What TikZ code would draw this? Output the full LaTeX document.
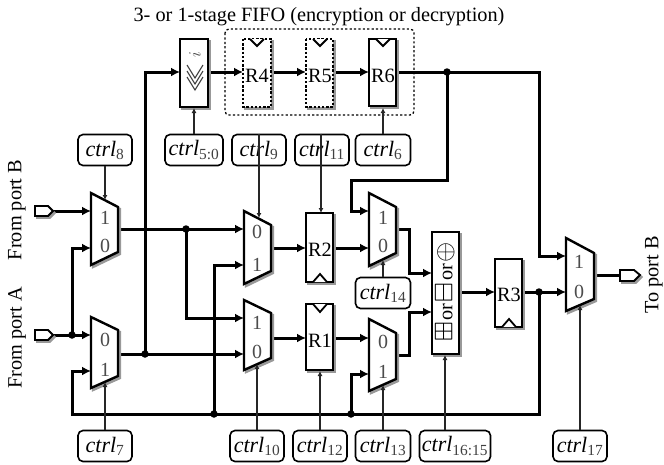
\documentclass[tikz,border=0pt]{standalone}
\usepackage{amssymb}
\usepackage{graphicx}
\usepackage{fontspec}
\setmainfont{Liberation Serif}
\usetikzlibrary{arrows.meta,calc}
\definecolor{shad}{gray}{0.6}
\tikzset{
  x=1pt,y=-1pt,
  thickw/.style={line width=3pt,-{Latex[length=9pt,width=9pt]},line join=miter},
  thinw/.style={line width=1.1pt,-{Latex[length=5pt,width=5pt]},black!85},
  plainw/.style={line width=3pt,line join=miter},
  dotn/.style={circle,fill=black,inner sep=0pt,minimum size=7.5pt},
  ctrlbox/.style={draw,line width=1.6pt,rounded corners=5pt,inner sep=0pt,minimum height=31pt,font=\fontsize{22}{23}\selectfont\itshape,fill=white},
  sh/.style={line width=2.4pt,draw=shad,fill=shad,xshift=2pt,yshift=-2pt},
  bd/.style={line width=2.4pt,draw=black,fill=white,line join=miter},
  lab/.style={font=\fontsize{20.3}{22}\selectfont,inner sep=0pt},
  num/.style={font=\fontsize{20}{22}\selectfont,inner sep=0pt,text=black!70},
  clk/.style={line width=1.8pt,draw=black,fill=white},
  dotreg/.style={dash pattern=on 2.4pt off 1.8pt,line width=2.8pt}
}
\newcommand{\mymux}[6]{%
  \path[sh] (#1,#3)--(#2,#4)--(#2,#5)--(#1,#6)--cycle;
  \path[bd] (#1,#3)--(#2,#4)--(#2,#5)--(#1,#6)--cycle;
}
\newcommand{\myreg}[5]{%
  \path[sh] (#1,#3) rectangle (#2,#4);
  \path[bd,#5] (#1,#3) rectangle (#2,#4);
}
\newcommand{\sub}[1]{\textsubscript{\normalfont\color{black!75}#1}}
\begin{document}
\begin{tikzpicture}
\useasboundingbox (0,0) rectangle (664,464);
\path[fill=white] (0,0) rectangle (664,464);
\node[lab] (title) at (319,17) {3- or 1-stage FIFO (encryption or decryption)};
\node[lab,rotate=90] (fb) at (17,210) {From port B};
\node[lab,rotate=90] (fa) at (17,338) {From port A};
\node[lab,rotate=90] (tb) at (654,275) {To port B};
\draw[line width=1.3pt,dash pattern=on 2.2pt off 2.2pt,rounded corners=4pt] (225,29) rectangle (414,115);

% junctions and pins
\coordinate (jA) at (72,335);
\coordinate (j8) at (186,229);
\coordinate (j7) at (145,354);
\coordinate (jb1) at (214,414);
\coordinate (jb2) at (351,414);
\coordinate (j3) at (539,292);
\coordinate (j6) at (447,72);
\coordinate (pB) at (53,211);
\coordinate (pA) at (53,335);
\coordinate (pO) at (620,275);
\coordinate (m8a) at (91,211);
\coordinate (m8b) at (91,248);
\coordinate (m8o) at (118,229);
\coordinate (m7a) at (91,335);
\coordinate (m7b) at (91,371);
\coordinate (m7o) at (118,354);
\coordinate (m9a) at (244,229);
\coordinate (m9b) at (244,265);
\coordinate (m9o) at (271,248);
\coordinate (m10a) at (244,318);
\coordinate (m10b) at (244,354);
\coordinate (m10o) at (271,338);
\coordinate (r2i) at (306,248);
\coordinate (r2o) at (333,248);
\coordinate (r1i) at (306,338);
\coordinate (r1o) at (333,338);
\coordinate (m14a) at (369,211);
\coordinate (m14b) at (369,248);
\coordinate (m14o) at (396,229);
\coordinate (m13a) at (369,338);
\coordinate (m13b) at (369,374);
\coordinate (m13o) at (396,355);
\coordinate (opa) at (432,273);
\coordinate (opb) at (432,312);
\coordinate (opo) at (459,292);
\coordinate (r3i) at (495,292);
\coordinate (r3o) at (522,292);
\coordinate (m17a) at (566,256);
\coordinate (m17b) at (566,292);
\coordinate (m17o) at (594,275);
\coordinate (shi) at (180,72);
\coordinate (sho) at (208,72);
\coordinate (r4i) at (243,72);
\coordinate (r4o) at (271,72);
\coordinate (r5i) at (306,72);
\coordinate (r5o) at (333,72);
\coordinate (r6i) at (369,72);
\coordinate (r6o) at (396,72);

% thick wires
\draw[thickw] (pB) -- (m8a);
\draw[plainw] (pA) -- (jA);
\draw[thickw] (jA) -- (m7a);
\draw[thickw] (jA) |- (m8b);
\draw[thickw] (m8o) -- (m9a);
\draw[thickw] (j8) |- (m10a);
\draw[thickw] (m7o) -- (m10b);
\draw[thickw] (j7) |- (shi);
\draw[thickw] (sho) -- (r4i);
\draw[thickw] (r4o) -- (r5i);
\draw[thickw] (r5o) -- (r6i);
\draw[thickw] (r6o) -| (539,200) |- (m17a);
\draw[thickw] (j6) |- (351,180) |- (m14a);
\draw[thickw] (m9o) -- (r2i);
\draw[thickw] (m10o) -- (r1i);
\draw[thickw] (r2o) -- (m14b);
\draw[thickw] (r1o) -- (m13a);
\draw[thickw] (m14o) -| (409,273) -- (opa);
\draw[thickw] (m13o) -| (409,312) -- (opb);
\draw[thickw] (opo) -- (r3i);
\draw[thickw] (r3o) -- (m17b);
\draw[plainw] (m17o) -- (pO);
\draw[thickw] (j3) |- (72,414) |- (m7b);
\draw[thickw] (jb1) |- (m9b);
\draw[thickw] (jb2) |- (m13b);
\foreach \c in {jA,j8,j7,jb1,jb2,j3,j6} \node[dotn] at (\c) {};

% muxes
\mymux{91}{118}{193}{207}{252}{265}
\mymux{91}{118}{317}{330}{376}{388}
\mymux{244}{271}{211}{225}{271}{284}
\mymux{244}{271}{300}{313}{358}{370}
\mymux{369}{396}{193}{207}{253}{266}
\mymux{369}{396}{319}{333}{379}{391}
\mymux{566}{594}{238}{253}{299}{311}
% regs
\myreg{306}{333}{213}{282}{}
\myreg{306}{333}{304}{370}{}
\myreg{495}{522}{259}{327}{}
\myreg{243}{271}{39}{107}{dotreg}
\myreg{306}{333}{39}{107}{dotreg}
\myreg{369}{396}{39}{106}{}
\myreg{180}{208}{39}{107}{}
\myreg{432}{459}{232}{354}{}
% clocks
\draw[clk] (313,282)--(320,274)--(327,282);
\draw[clk] (502,327)--(509,319)--(516,327);
\draw[clk] (313,304)--(320,312)--(327,304);
\draw[clk] (250,39)--(257,46)--(264,39);
\draw[clk] (313,39)--(320,46)--(327,39);
\draw[clk] (376,39)--(383,46)--(390,39);
% ports
\draw[sh,line width=1.6pt] (35,206)--(48,206)--(53,211)--(48,216)--(35,216)--cycle;
\draw[bd,line width=1.8pt] (35,206)--(48,206)--(53,211)--(48,216)--(35,216)--cycle;
\draw[sh,line width=1.6pt] (35,330)--(48,330)--(53,335)--(48,340)--(35,340)--cycle;
\draw[bd,line width=1.8pt] (35,330)--(48,330)--(53,335)--(48,340)--(35,340)--cycle;
\draw[sh,line width=1.6pt] (620,270)--(634,270)--(640,275)--(634,281)--(620,281)--cycle;
\draw[bd,line width=1.8pt] (620,270)--(634,270)--(640,275)--(634,281)--(620,281)--cycle;
% mux labels
\foreach \x/\y/\t in {105/218/1,105/246/0,105/340/0,105/370/1,257/232/0,257/265/1,257/323/1,257/352/0,383/218/1,383/246/0,383/342/0,383/372/1,579/262/1,579/292/0}
  \node[num] at (\x,\y) {\t};
% reg labels
\node[lab] at (320,250) {R2};
\node[lab] at (320,341) {R1};
\node[lab] at (509,295) {R3};
\node[lab] at (257,76) {R4};
\node[lab] at (320,76) {R5};
\node[lab] at (383,76) {R6};
% shifter
\node[rotate=90,inner sep=0pt,font=\fontsize{18}{18}\selectfont,text=black!70] at (195,55) {$i$};
\foreach \yy in {65,71,77} \draw[line width=1.1pt,draw=black!75] (187,\yy)--(195,\yy+13)--(203,\yy);
% op
\node[lab,rotate=90] (op) at (445,292) {\scalebox{1.25}{$\boxplus$}\hspace{1.5pt}or\hspace{1.5pt}\scalebox{1.25}{$\boxminus$}\hspace{1.5pt}or\hspace{1.5pt}\scalebox{1.25}{$\oplus$}};
% ctrl
\foreach \n/\cx/\cy/\w/\s in {c8/105/150/54/8,c50/194/150/58/{5:0},c9/259/150/54/9,c11/322/150/54/11,c6/383/150/55/6,c14/383/293/55/14,c7/105/446/54/7,c10/257/446/54/10,c12/320/446/54/12,c13/383/446/55/13,c1615/455/446/71/{16:15},c17/580/446/54/17}
  \node[ctrlbox,minimum width=\w pt] (\n) at (\cx,\cy) {ctrl\sub{\s}};
\coordinate (t8) at (105,200);
\coordinate (t50) at (194,108);
\coordinate (t9) at (259,218);
\coordinate (t11) at (321,213);
\coordinate (t6) at (383,108);
\coordinate (t14) at (383,260);
\coordinate (t7) at (105,382);
\coordinate (t10) at (257,364);
\coordinate (t12) at (320,371);
\coordinate (t13) at (383,385);
\coordinate (t1615) at (445,355);
\coordinate (t17) at (580,305);
\draw[thinw] (c8) -- (t8);
\draw[thinw] (c50) -- (t50);
\draw[thinw] (c9.north -| t9) -- (t9);
\draw[thinw] (c11.north -| t11) -- (t11);
\draw[thinw] (c6) -- (t6);
\draw[thinw] (c14) -- (t14);
\draw[thinw] (c7) -- (t7);
\draw[thinw] (c10) -- (t10);
\draw[thinw] (c12) -- (t12);
\draw[thinw] (c13) -- (t13);
\draw[thinw] (c1615.north -| t1615) -- (t1615);
\draw[thinw] (c17) -- (t17);
\end{tikzpicture}
\end{document}
